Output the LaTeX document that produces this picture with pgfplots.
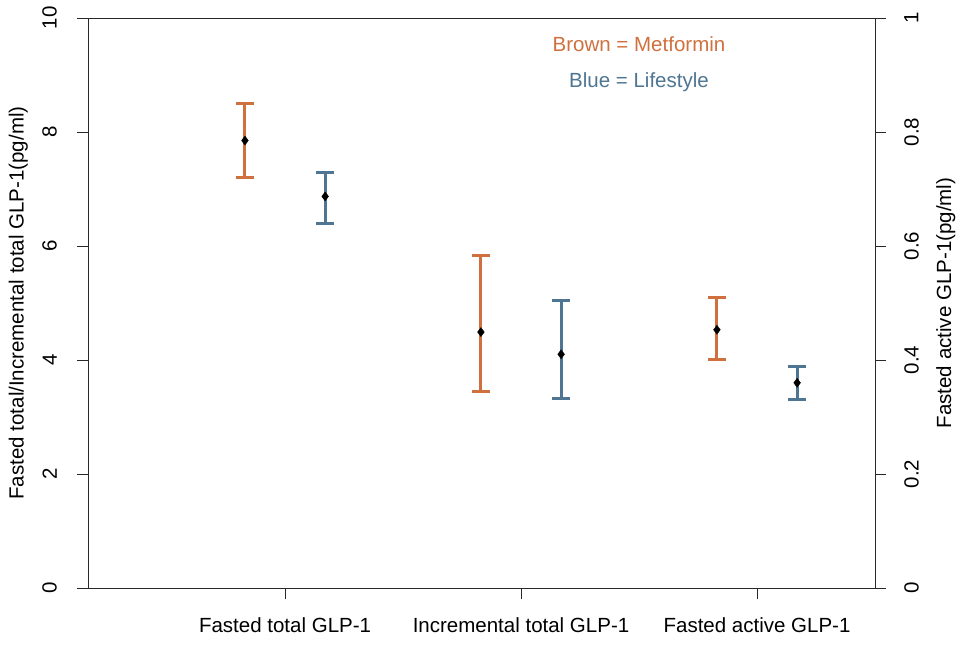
\documentclass[border=0pt]{standalone}
\usepackage{pgfplots}
\pgfplotsset{compat=1.18}
\usepackage{fontspec}
\setmainfont{Liberation Sans}
\definecolor{mbrown}{RGB}{208,112,62}
\definecolor{lblue}{RGB}{78,118,146}
\definecolor{axgray}{RGB}{40,40,40}
\newcommand\ff{\fontsize{20.5bp}{24bp}\selectfont}
\begin{document}
\begin{tikzpicture}
\path[use as bounding box] (-88bp,-58bp) rectangle (877bp,588bp);
\begin{axis}[
  at={(0,0)}, anchor=south west,
  scale only axis, width=787bp, height=570bp,
  xmin=0.165, xmax=3.5, ymin=0, ymax=10,
  xtick={1,2,3},
  xticklabels={Fasted total GLP-1, Incremental total GLP-1, Fasted active GLP-1},
  xtick pos=bottom, ytick pos=left, ytick={0,2,4,6,8,10},
  tick align=outside, major tick length=11bp,
  tick style={axgray, line width=0.9bp},
  axis line style={axgray, line width=0.9bp},
  every axis/.append style={font=\ff},
  /pgf/number format/assume math mode=true,
  yticklabel style={rotate=90, anchor=south, inner sep=0pt},
  yticklabel shift=20bp,
  xticklabel style={anchor=north, inner sep=0pt},
  xticklabel shift=18bp,
  ylabel={Fasted total/Incremental total GLP-1(pg/ml)},
  ylabel style={at={(axis description cs:-0.0762,0.5)}, anchor=south, inner sep=0pt},
  clip=false,
]
\addplot[only marks, mark=none, error bars/.cd, y dir=both, y explicit,
  error bar style={mbrown, line width=3bp},
  error mark options={rotate=90, mark size=9bp, mbrown, line width=3bp}]
  coordinates {(0.83,7.85) += (0,0.65) -= (0,0.65)
               (1.83,4.49) += (0,1.35) -= (0,1.05)};
\addplot[only marks, mark=none, error bars/.cd, y dir=both, y explicit,
  error bar style={lblue, line width=3bp},
  error mark options={rotate=90, mark size=9bp, lblue, line width=3bp}]
  coordinates {(1.17,6.87) += (0,0.42) -= (0,0.48)
               (2.17,4.10) += (0,0.94) -= (0,0.78)};
\addplot[only marks, mark=diamond*, mark size=4.5bp, black]
  coordinates {(0.83,7.85) (1.17,6.87) (1.83,4.49) (2.17,4.10)};
\node[text=mbrown, font=\ff] at (axis cs:2.5,9.54) {Brown = Metformin};
\node[text=lblue, font=\ff] at (axis cs:2.5,8.88) {Blue = Lifestyle};
\end{axis}
\begin{axis}[
  at={(0,0)}, anchor=south west,
  scale only axis, width=787bp, height=570bp,
  xmin=0.165, xmax=3.5, ymin=0, ymax=1,
  hide x axis, axis y line*=right,
  ytick={0,0.2,0.4,0.6,0.8,1},
  yticklabels={0,0.2,0.4,0.6,0.8,1},
  tick align=outside, major tick length=11bp,
  tick style={axgray, line width=0.9bp},
  axis line style={axgray, line width=0.9bp},
  every axis/.append style={font=\ff},
  yticklabel style={rotate=90, anchor=north, inner sep=0pt},
  yticklabel shift=18bp,
  ylabel={Fasted active GLP-1(pg/ml)},
  ylabel style={at={(axis description cs:1.0775,0.5)}, anchor=north, inner sep=0pt, rotate=0},
  clip=false,
]
\addplot[only marks, mark=none, error bars/.cd, y dir=both, y explicit,
  error bar style={mbrown, line width=3bp},
  error mark options={rotate=90, mark size=9bp, mbrown, line width=3bp}]
  coordinates {(2.83,0.453) += (0,0.057) -= (0,0.053)};
\addplot[only marks, mark=none, error bars/.cd, y dir=both, y explicit,
  error bar style={lblue, line width=3bp},
  error mark options={rotate=90, mark size=9bp, lblue, line width=3bp}]
  coordinates {(3.17,0.360) += (0,0.028) -= (0,0.030)};
\addplot[only marks, mark=diamond*, mark size=4.5bp, black]
  coordinates {(2.83,0.453) (3.17,0.360)};
\end{axis}
\end{tikzpicture}
\end{document}
